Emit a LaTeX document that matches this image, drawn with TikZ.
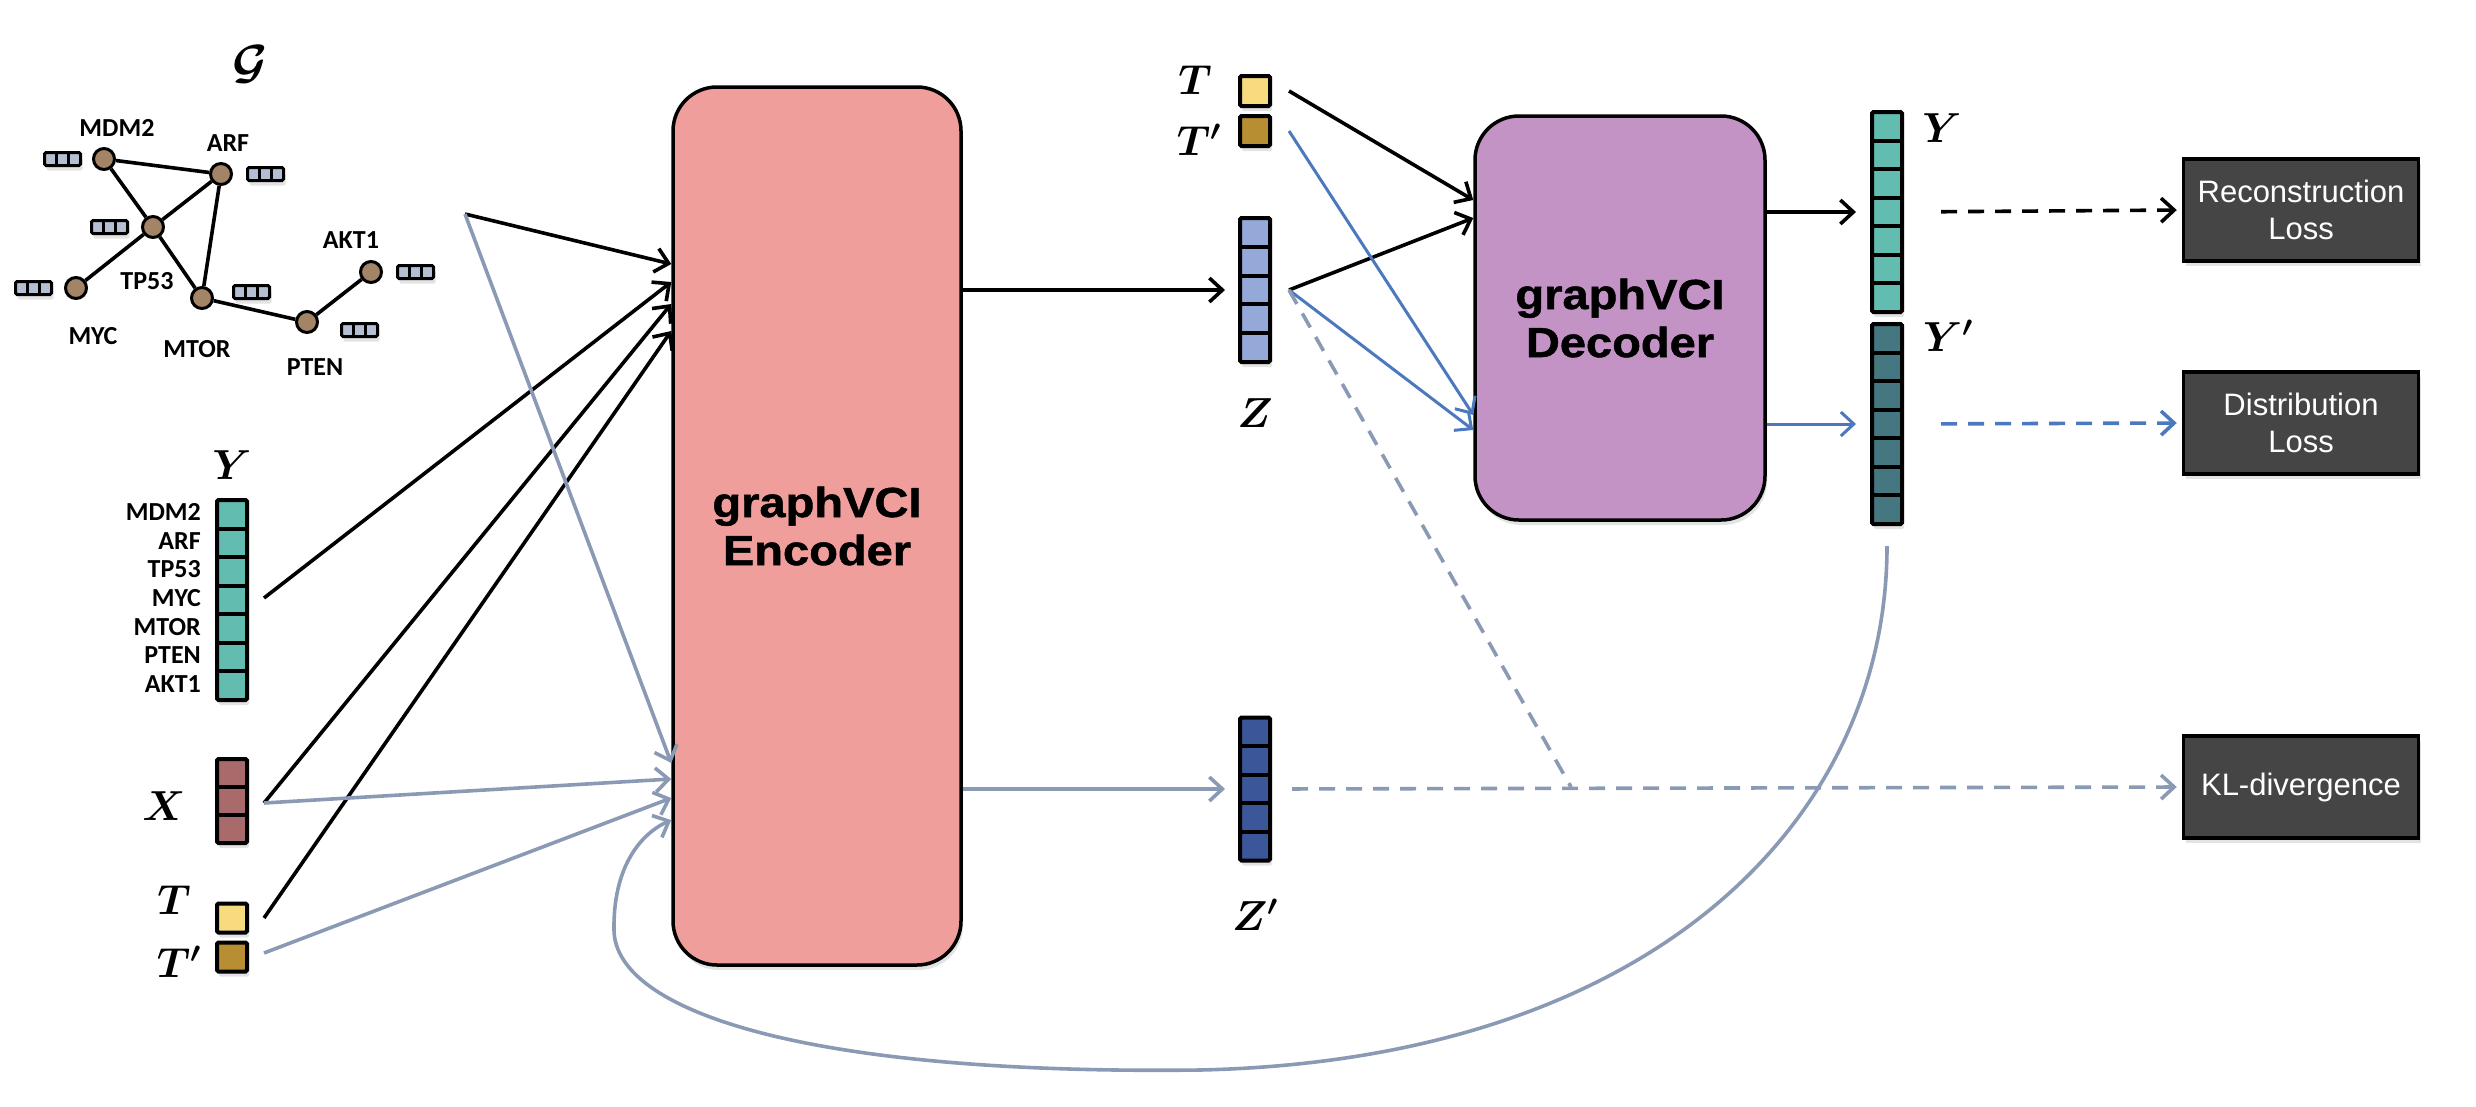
\RequirePackage{fix-cm}
\documentclass[tikz,border=0pt]{standalone}
\usepackage{fontspec}
\usepackage{amsmath,amssymb}
\usepackage{tikz}
\usetikzlibrary{arrows.meta,positioning,calc,shadows}
\newfontfamily\genefont{Carlito}
\newfontfamily\blockfont{Liberation Sans}[FakeStretch=1.12,FakeBold=1.2]
\newfontfamily\lossfont{Liberation Sans}
\definecolor{encpink}{HTML}{F09E9C}
\definecolor{decpurple}{HTML}{C493C6}
\definecolor{yteal}{HTML}{63BCB0}
\definecolor{ydark}{HTML}{447780}
\definecolor{xred}{HTML}{A86A6A}
\definecolor{tyellow}{HTML}{F9DB7F}
\definecolor{tgold}{HTML}{B88E32}
\definecolor{zblue}{HTML}{94A9D8}
\definecolor{zdark}{HTML}{3B5699}
\definecolor{featgray}{HTML}{B5BFD3}
\definecolor{nodebrown}{HTML}{A38466}
\definecolor{linegray}{HTML}{8A9AB5}
\definecolor{lineblue}{HTML}{4C79BD}
\definecolor{lossgray}{HTML}{454545}
\tikzset{
  softshadow/.style={drop shadow={shadow xshift=2pt,shadow yshift=-5pt,opacity=0.22}},
  blk/.style={rectangle,rounded corners=44pt,draw=black,line width=3.5pt,fill=#1,
              minimum width=288pt,align=center,softshadow,
              font=\blockfont\bfseries\fontsize{42}{48}\selectfont},
  vec/.style={rectangle,draw=black,line width=4pt,fill=#1,minimum width=30pt,
              inner sep=0pt,rounded corners=1.5pt,softshadow},
  cells/.style={path picture={
      \foreach \k in {2,...,#1}{
        \pgfmathsetmacro\fr{(\k-1)/#1}
        \draw ($(path picture bounding box.north west)!\fr!(path picture bounding box.south west)$)
           -- ($(path picture bounding box.north east)!\fr!(path picture bounding box.south east)$);
      }}},
  hcells/.style={path picture={
      \foreach \k in {2,...,#1}{
        \pgfmathsetmacro\fr{(\k-1)/#1}
        \draw ($(path picture bounding box.north west)!\fr!(path picture bounding box.north east)$)
           -- ($(path picture bounding box.south west)!\fr!(path picture bounding box.south east)$);
      }}},
  lossbox/.style={rectangle,draw=black,line width=3.5pt,fill=lossgray,text=white,
                  minimum width=235pt,minimum height=102pt,align=center,softshadow,
                  font=\lossfont\fontsize{31}{37}\selectfont},
  barr/.style={-{Straight Barb[length=13pt,width=24pt]},line width=3.6pt,black},
  garr/.style={barr,linegray},
  blarr/.style={barr,lineblue,line width=3pt},
  mlabel/.style={inner sep=0pt,font=\fontsize{42}{46}\selectfont},
}
\begin{document}
\begin{tikzpicture}[x=1pt,y=-1pt,
    gnode/.style={circle,draw=black,line width=3pt,fill=nodebrown,minimum size=21pt,inner sep=0pt},
    gedge/.style={line width=3.6pt},
    glabel/.style={inner sep=0pt,font=\genefont\bfseries\fontsize{26}{28}\selectfont},
    feat/.style={vec=featgray,hcells=3,minimum width=36pt,minimum height=13pt,line width=3pt},
    dashline/.style={barr,dash pattern=on 16pt off 11pt},
  ]
  \useasboundingbox (0,0) rectangle (2476,1106);

  \node[mlabel,font=\fontsize{48}{50}\selectfont] (glab) at (250,64) {$\boldsymbol{\mathcal{G}}$};
  \node[gnode] (mdm2) at (104,159) {};
  \node[gnode] (arf) at (221,174) {};
  \node[gnode] (tp53) at (153,227) {};
  \node[gnode] (myc) at (76,288) {};
  \node[gnode] (mtor) at (202,298) {};
  \node[gnode] (pten) at (307,322) {};
  \node[gnode] (akt1) at (371,272) {};
  \draw[gedge] (mdm2)--(arf) (mdm2)--(tp53) (arf)--(tp53) (arf)--(mtor)
               (tp53)--(myc) (tp53)--(mtor) (mtor)--(pten) (pten)--(akt1);
  \node[glabel,above=10pt of mdm2,xshift=13pt] (lmdm2) {MDM2};
  \node[glabel,above=10pt of arf,xshift=7pt] (larf) {ARF};
  \node[glabel,below=33pt of tp53,xshift=-6pt] (ltp53) {TP53};
  \node[glabel,below=27pt of myc,xshift=17pt] (lmyc) {MYC};
  \node[glabel,below=30pt of mtor,xshift=-5pt] (lmtor) {MTOR};
  \node[glabel,below=24pt of pten,xshift=8pt] (lpten) {PTEN};
  \node[glabel,above=11pt of akt1,xshift=-20pt] (lakt1) {AKT1};
  \node[feat,left=10pt of mdm2] (fmdm2) {};
  \node[feat,right=13pt of arf] (farf) {};
  \node[feat,left=12pt of tp53] (ftp53) {};
  \node[feat,left=11pt of myc] (fmyc) {};
  \node[feat,right=18pt of mtor,yshift=6pt] (fmtor) {};
  \node[feat,right=21pt of pten,yshift=-8pt] (fpten) {};
  \node[feat,right=13pt of akt1] (fakt1) {};

  \node[vec=yteal,cells=7,minimum height=200pt] (yin) at (232,600) {};
  \node[mlabel,above=18pt of yin] (yinlab) {$\boldsymbol{Y}$};
  \foreach \g [count=\i] in {MDM2,ARF,TP53,MYC,MTOR,PTEN,AKT1}
    \node[glabel,anchor=east] (yrow\i) at ($(yin.north west)+(-14,{(\i-0.5)*200/7})$) {\g};
  \node[vec=xred,cells=3,minimum height=84pt] (xin) at (232,801) {};
  \node[mlabel] (xinlab) at (164,806) {$\boldsymbol{X}$};
  \node[vec=tyellow,minimum height=29pt] (tin) at (232,918) {};
  \node[vec=tgold,minimum height=29pt] (tpin) at (232,957) {};
  \node[mlabel] (tinlab) at (174,900) {$\boldsymbol{T}$};
  \node[mlabel] (tpinlab) at (179,962) {$\boldsymbol{T'}$};

  \node[blk=encpink,minimum height=878pt] (enc) at (817,526) {graphVCI\\Encoder};
  \node[blk=decpurple,minimum width=290pt,minimum height=404pt] (dec) at (1620,318) {graphVCI\\Decoder};

  \node[vec=zblue,cells=5,minimum height=144pt] (z) at (1255,290) {};
  \node[mlabel,below=34pt of z] (zlab) {$\boldsymbol{Z}$};
  \node[vec=zdark,cells=5,minimum height=143pt] (zp) at (1255,789) {};
  \node[mlabel,below=36pt of zp] (zplab) {$\boldsymbol{Z'}$};
  \node[vec=tyellow,minimum height=30pt] (tz) at (1255,91) {};
  \node[vec=tgold,minimum height=30pt] (tpz) at (1255,131) {};
  \node[mlabel] (tzlab) at (1195,80) {$\boldsymbol{T}$};
  \node[mlabel] (tpzlab) at (1199,140) {$\boldsymbol{T'}$};

  \node[vec=yteal,cells=7,minimum height=200pt] (yout) at (1887,212) {};
  \node[mlabel] (youtlab) at (1942,128) {$\boldsymbol{Y}$};
  \node[vec=ydark,cells=7,minimum height=200pt] (ypout) at (1887,424) {};
  \node[mlabel] (ypoutlab) at (1948,336) {$\boldsymbol{Y'}$};

  \node[lossbox] (recon) at (2301,210) {Reconstruction\\Loss};
  \node[lossbox] (dist) at (2301,423) {Distribution\\Loss};
  \node[lossbox] (kl) at (2301,787) {KL-divergence};

  \coordinate (gout) at (465,214);
  \coordinate (yo) at ($(yin.east)+(15,-2)$);
  \coordinate (xo) at ($(xin.east)+(15,2)$);
  \coordinate (to) at ($(tin.east)+(15,0)$);
  \coordinate (tpo) at ($(tpin.east)+(15,-4)$);
  \coordinate (zo) at ($(z.east)+(17,0)$);
  \coordinate (tzo) at ($(tz.east)+(17,0)$);
  \coordinate (tpzo) at ($(tpz.east)+(17,0)$);
  \coordinate (ypo) at ($(ypout.south)+(0,20)$);
  \coordinate (bend) at (1571,787);
  \coordinate (c1) at (1200,1070);
  \coordinate (c2) at (614,930);

  \draw[barr] (gout) -- (enc.west |- 0,264);
  \draw[barr] (yo) -- (enc.west |- 0,282);
  \draw[barr] (xo) -- (enc.west |- 0,304);
  \draw[barr] (to) -- (enc.west |- 0,331);
  \draw[garr] (gout) -- (enc.west |- 0,763);
  \draw[garr] (xo) -- (enc.west |- 0,779);
  \draw[garr] (tpo) -- (enc.west |- 0,798);
  \draw[garr] (ypo) .. controls +(0,276) and +(450,-10) .. (c1)
              .. controls +(-400,5) and +(1,80) .. (c2)
              .. controls +(-1,-60) and +(-33,15) .. (enc.west |- 0,820);

  \draw[barr,shorten >=13pt] (enc.east |- z.west) -- (z.west);
  \draw[garr,shorten >=13pt] (enc.east |- zp.west) -- (zp.west);
  \draw[barr] (tzo) -- (dec.west |- 0,200);
  \draw[barr] (zo) -- (dec.west |- 0,218);
  \draw[blarr] (tpzo) -- (dec.west |- 0,415);
  \draw[blarr] (zo) -- (dec.west |- 0,430);
  \draw[dashline,linegray,-] (zo) -- (bend);

  \draw[barr,shorten >=14pt] (dec.east |- yout.west) -- (yout.west);
  \draw[blarr,shorten >=14pt] (dec.east |- ypout.west) -- (ypout.west);
  \draw[dashline,shorten <=37pt,shorten >=5pt] (yout.east) -- (recon.west);
  \draw[dashline,lineblue,shorten <=37pt,shorten >=5pt] (ypout.east) -- (dist.west);
  \draw[dashline,linegray,shorten <=20pt,shorten >=5pt] (zp.east) -- (kl.west);
\end{tikzpicture}
\end{document}
